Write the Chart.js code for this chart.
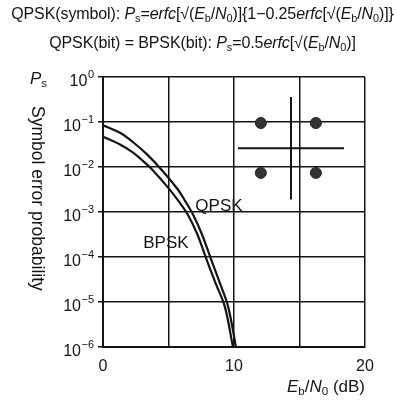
<!DOCTYPE html>
<html>
<head>
<meta charset="utf-8">
<script src="https://cdn.jsdelivr.net/npm/chart.js@4"></script>
<style>
  html, body { margin: 0; padding: 0; background: #fff; }
  #wrap { position: relative; width: 397px; height: 405px; font-family: "Liberation Sans", Arial, sans-serif; color: #141414; }
  canvas { position: absolute; left: 0; top: 0; }
  .txt { position: absolute; white-space: nowrap; }
  .txt sub { font-size: 0.68em; vertical-align: -0.25em; line-height: 0; }
  .title { left: 4px; width: 397px; text-align: center; font-size: 16px; line-height: 18px; letter-spacing: -0.1px; }
  #t1 { top: 5px; }
  #t2 { top: 34px; }
  #ps { left: 30px; top: 70px; font-size: 17px; line-height: 18px; }
  #xtitle { right: 32px; top: 377px; font-size: 17px; line-height: 20px; }
  #ytitle { left: 28px; top: 106px; font-size: 17.5px; line-height: 20px; writing-mode: vertical-rl; }
</style>
</head>
<body>
<div id="wrap">
  <canvas id="chart" width="397" height="405"></canvas>
  <div class="txt title" id="t1">QPSK(symbol): <i>P</i><sub>s</sub>=<i>erfc</i>[√(<i>E</i><sub>b</sub>/<i>N</i><sub>0</sub>)]{1−0.25<i>erfc</i>[√(<i>E</i><sub>b</sub>/<i>N</i><sub>0</sub>)]}</div>
  <div class="txt title" id="t2">QPSK(bit) = BPSK(bit): <i>P</i><sub>s</sub>=0.5<i>erfc</i>[√(<i>E</i><sub>b</sub>/<i>N</i><sub>0</sub>)]</div>
  <div class="txt" id="ps"><i>P</i><sub>s</sub></div>
  <div class="txt" id="ytitle">Symbol error probability</div>
  <div class="txt" id="xtitle"><i>E</i><sub>b</sub>/<i>N</i><sub>0</sub> (dB)</div>
</div>
<script>
// values (Eb/N0 in dB, probability)
const qpskDb = [0, 1.3, 2.3, 3.4, 4.5, 5.7, 6.3, 6.9, 7.55, 8.25, 8.9, 9.55, 10.15];
const qpskPs = [0.085, 0.0575, 0.0355, 0.0186, 0.0085, 0.0032, 0.0017, 0.00085, 0.00032, 0.000089, 0.0000275, 0.0000079, 0.000001];

const bpskDb = [0, 1.3, 2.3, 3.1, 3.8, 5.0, 5.8, 6.5, 7.2, 7.9, 8.6, 9.3, 9.92];
const bpskPs = [0.047, 0.0316, 0.0209, 0.0132, 0.0085, 0.0034, 0.0017, 0.00085, 0.00032, 0.000089, 0.000026, 0.0000079, 0.000001];

// x grid every 5 dB, labels only on 0/10/20
const xGrid = [0, 5, 10, 15, 20];
const xTickLabels = ['0', '', '10', '', '20'];

const yTicks = [1, 1e-1, 1e-2, 1e-3, 1e-4, 1e-5, 1e-6];
const yTickBase = '10';
const yTickExp = ['0', '−1', '−2', '−3', '−4', '−5', '−6'];

// QPSK constellation inset (drawn in data space)
const dotsDb = [12.05, 16.25, 12.05, 16.25];
const dotsPs = [0.095, 0.095, 0.0074, 0.0074];
const iAxisDb = [10.3, 18.4];
const iAxisPs = [0.026, 0.026];
const qAxisDb = [14.35, 14.35];
const qAxisPs = [0.36, 0.0019];

const ink = '#141414';
const fontFamily = '"Liberation Sans", Arial, sans-serif';
const toPts = (xs, ys) => xs.map((x, i) => ({ x: x, y: ys[i] }));

// curve labels + y tick labels with real superscripts
const textPlugin = {
  id: 'textPlugin',
  afterDraw(chart) {
    const { ctx, scales } = chart;
    ctx.save();
    ctx.fillStyle = ink;

    ctx.font = '17px ' + fontFamily;
    ctx.textAlign = 'center';
    ctx.textBaseline = 'middle';
    ctx.fillText('QPSK', scales.x.getPixelForValue(8.85), scales.y.getPixelForValue(0.00135));
    ctx.fillText('BPSK', scales.x.getPixelForValue(4.8), scales.y.getPixelForValue(0.0002));

    const right = scales.y.right - 9;
    ctx.textBaseline = 'alphabetic';
    yTicks.forEach((v, i) => {
      const y = scales.y.getPixelForValue(v);
      ctx.font = '11px ' + fontFamily;
      ctx.textAlign = 'right';
      const ew = ctx.measureText(yTickExp[i]).width;
      ctx.fillText(yTickExp[i], right, y + 1);
      ctx.font = '16px ' + fontFamily;
      ctx.fillText(yTickBase, right - ew - 0.5, y + 9);
    });
    ctx.restore();
  }
};

const lineDs = (label, data, w, tension) => ({
  label: label,
  data: data,
  showLine: true,
  borderColor: ink,
  borderWidth: w,
  pointRadius: 0,
  tension: tension,
});

new Chart(document.getElementById('chart'), {
  type: 'scatter',
  data: {
    datasets: [
      lineDs('QPSK', toPts(qpskDb, qpskPs), 2.2, 0.35),
      lineDs('BPSK', toPts(bpskDb, bpskPs), 2.2, 0.35),
      lineDs('I axis', toPts(iAxisDb, iAxisPs), 2, 0),
      lineDs('Q axis', toPts(qAxisDb, qAxisPs), 2, 0),
      {
        label: 'constellation',
        data: toPts(dotsDb, dotsPs),
        pointRadius: 5.5,
        backgroundColor: '#333',
        borderColor: '#222',
        borderWidth: 1,
      }
    ]
  },
  options: {
    responsive: false,
    devicePixelRatio: 1,
    animation: false,
    layout: { padding: { top: 77, right: 32, bottom: 34, left: 0 } },
    plugins: {
      legend: { display: false },
      tooltip: { enabled: false },
    },
    scales: {
      x: {
        type: 'linear',
        min: 0,
        max: 20,
        afterBuildTicks: s => { s.ticks = xGrid.map(v => ({ value: v })); },
        afterFit: s => { s.height = 24; },
        ticks: {
          callback: (v) => xTickLabels[xGrid.indexOf(v)],
          color: ink,
          font: { size: 16, family: fontFamily },
          padding: 10,
          maxRotation: 0,
        },
        grid: { color: ink, lineWidth: 1.5, drawTicks: false },
        border: { color: ink, width: 2 },
      },
      y: {
        type: 'logarithmic',
        min: 1e-6,
        max: 1,
        afterBuildTicks: s => { s.ticks = yTicks.map(v => ({ value: v })); },
        afterFit: s => { s.width = 103; },
        ticks: { display: false },
        grid: { color: ink, lineWidth: 1.5, tickLength: 5 },
        border: { color: ink, width: 2 },
      }
    }
  },
  plugins: [textPlugin]
});
</script>
</body>
</html>
